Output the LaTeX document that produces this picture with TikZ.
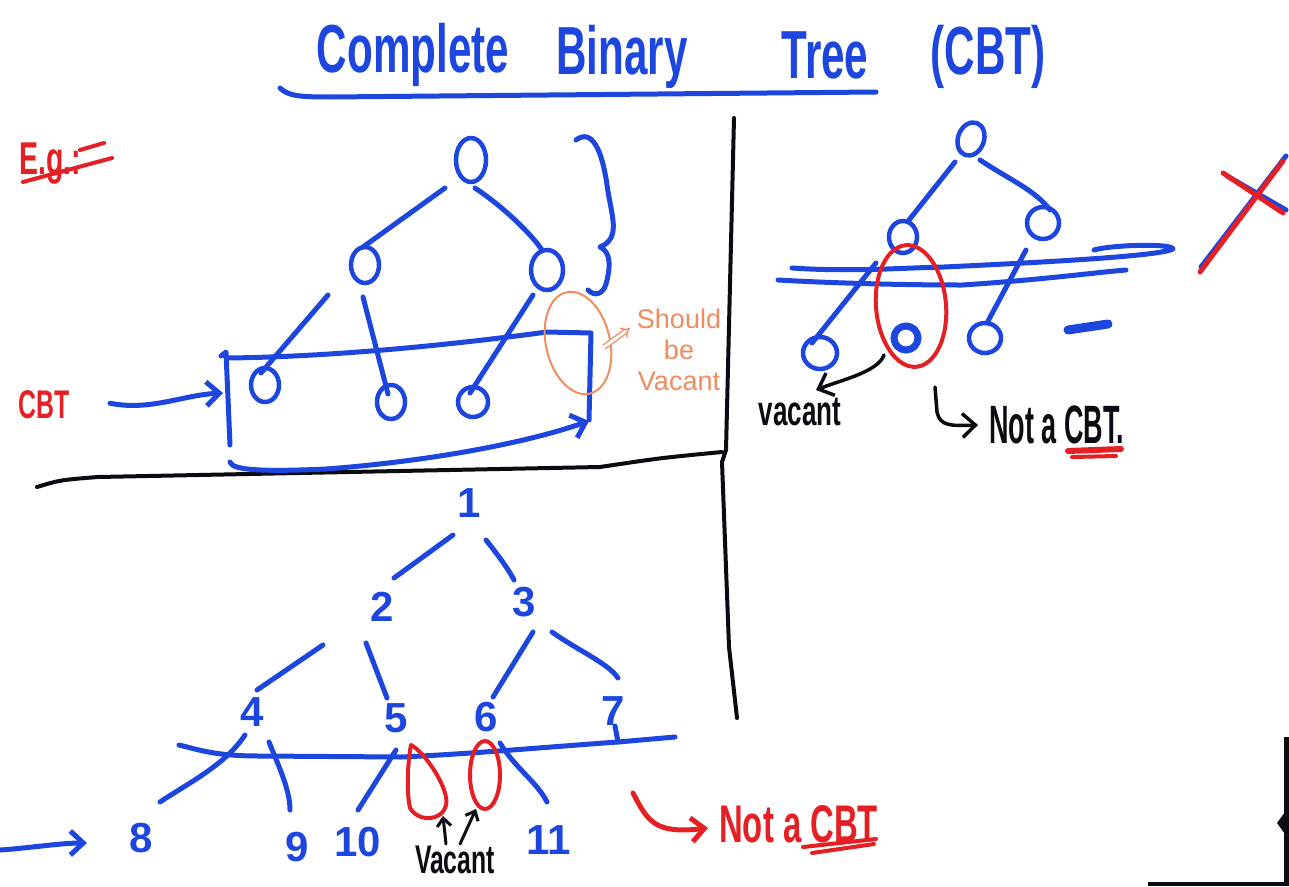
\documentclass[tikz,border=0pt]{standalone}
\usepackage{fontspec}
\setmainfont{Liberation Sans}
\newfontfamily\hand[FakeStretch=0.62]{Liberation Sans}
\newfontfamily\handn[FakeStretch=0.5]{Liberation Sans}
\usetikzlibrary{shapes.geometric,arrows.meta}
\definecolor{pen}{RGB}{28,70,222}
\definecolor{rd}{RGB}{228,32,36}
\definecolor{org}{RGB}{240,140,95}
\definecolor{ink}{RGB}{10,12,18}
\begin{document}
\begin{tikzpicture}[x=1pt,y=-1pt,
 bl/.style={draw=pen,line width=5pt,line cap=round,line join=round},
 rl/.style={draw=rd,line width=5pt,line cap=round,line join=round},
 kl/.style={draw=ink,line width=4pt,line cap=round,line join=round},
 onode/.style={ellipse,draw=pen,line width=4.5pt,inner sep=0pt},
 dig/.style={text=pen,font=\bfseries\fontsize{42}{42}\selectfont,inner sep=0pt},
 ttl/.style={text=pen,font=\hand\bfseries\fontsize{68}{70}\selectfont,anchor=base,inner sep=0pt},
 lbl/.style={inner sep=0pt,anchor=base},
 barb/.style={-{Straight Barb[length=13pt,width=24pt]}}
]
\fill[white] (0,0) rectangle (1289,886);
\useasboundingbox (0,0) rectangle (1289,886);

% ---------- title ----------
\node[ttl] (t1) at (413,72) {Complete};
\node[ttl] (t2) at (622,74) {Binary};
\node[ttl] (t3) at (825,78) {Tree};
\node[ttl] (t4) at (988,74) {(CBT)};
\draw[bl] (280,88) .. controls (288,96) and (300,97) .. (330,97) -- (876,92);

% ---------- E.g. ----------
\node[lbl,text=rd,font=\hand\bfseries\fontsize{46}{46}\selectfont] (eg) at (50,174) {E.g.:};
\draw[rl,line width=4pt] (23,182) -- (112,158);
\draw[rl,line width=4pt] (80,150) -- (104,143);

% ---------- dividers ----------
\draw[kl] (37,487) .. controls (60,480) .. (98,477) -- (600,467) .. controls (660,458) .. (722,452);
\draw[kl] (734,118) -- (726,450) -- (722,462) -- (729,647) -- (737,718);

% ---------- tree 1 ----------
\node[onode,minimum width=30,minimum height=44] (a1) at (471,160) {};
\node[onode,minimum width=28,minimum height=36] (a2) at (365,265) {};
\node[onode,minimum width=32,minimum height=40] (a3) at (547,270) {};
\node[onode,minimum width=28,minimum height=34] (a4) at (265,385) {};
\node[onode,minimum width=28,minimum height=34] (a5) at (391,402) {};
\node[onode,minimum width=30,minimum height=30] (a6) at (473,402) {};
\draw[bl] ([shift={(-26,28)}]a1.center) -- ([shift={(-2,-18)}]a2.center);
\draw[bl] ([shift={(4,28)}]a1.center) .. controls +(30,20) and +(-10,-15) .. ([shift={(-5,-20)}]a3.center);
\draw[bl] ([shift={(-37,30)}]a2.center) -- ([shift={(-4,-12)}]a4.center);
\draw[bl] ([shift={(-2,32)}]a2.center) -- ([shift={(-3,-8)}]a5.center);
\draw[bl] ([shift={(-14,25)}]a3.center) -- ([shift={(-3,-9)}]a6.center);
% brace
\draw[bl] (576,140) .. controls (592,128) and (602,150) .. (607,185) .. controls (611,215) and (622,238) .. (600,247)
  .. controls (612,252) and (610,270) .. (606,284) .. controls (603,294) and (595,297) .. (588,290);
% box around last level
\draw[bl] (221,356) -- (226,352) -- (230,445);
\draw[bl] (226,358) .. controls (330,357) and (450,345) .. (547,332) -- (591,333) -- (589,420);
\coordinate (boxtip) at (589,421);
\draw[bl,barb] (230,462) .. controls (232,470) and (260,472) .. (326,469) .. controls (420,462) and (520,445) .. (boxtip);
% CBT label
\node[lbl,text=rd,font=\hand\bfseries\fontsize{40}{40}\selectfont] (cbt) at (44,418) {CBT};
\coordinate (boxl) at (223,393);
\draw[bl,barb] ([shift={(66,-1)}]cbt.center) .. controls +(40,8) and +(-40,2) .. (boxl);
% orange note
\node[ellipse,draw=org,line width=2pt,minimum width=64,minimum height=104,rotate=13] (sv) at (578,343) {};
\node[inner sep=0pt,align=center,text=org,font=\fontsize{27}{31}\selectfont] (s1) at (679,350) {Should\\be\\Vacant};
\draw[draw=org,line width=1.3pt,double distance=3pt,-{Implies}] ([shift={(26,4)}]sv.center) -- ([shift={(-49,-22)}]s1.center);

% ---------- tree 2 ----------
\node[onode,minimum width=26,minimum height=34,rotate=-20] (b1) at (971,139) {};
\node[onode,minimum width=28,minimum height=32] (b2) at (903,237) {};
\node[onode,minimum width=32,minimum height=32] (b3) at (1043,223) {};
\node[onode,minimum width=34,minimum height=32] (b4) at (820,353) {};
\node[onode,line width=7pt,minimum width=24,minimum height=24] (b5) at (906,338) {};
\node[onode,minimum width=32,minimum height=30] (b6) at (985,338) {};
\draw[bl] ([shift={(-16,23)}]b1.center) -- ([shift={(6,-17)}]b2.center);
\draw[bl] ([shift={(9,21)}]b1.center) .. controls +(30,20) and +(-15,-20) .. ([shift={(7,-13)}]b3.center);
\draw[bl] ([shift={(-27,26)}]b2.center) -- ([shift={(-8,-10)}]b4.center);
\draw[bl] ([shift={(-17,27)}]b3.center) -- ([shift={(2,-15)}]b6.center);
\draw[bl] (792,268) .. controls (850,272) and (900,268) .. (944,267) .. controls (1050,262) and (1160,256) .. (1173,249)
  .. controls (1172,243) and (1110,245) .. (1094,250);
\draw[bl] (778,280) .. controls (830,283) and (900,285) .. (962,285) .. controls (1040,280) and (1100,272) .. (1126,270);
\draw[bl,line width=9pt] (1068,330) -- (1108,324);
\node[ellipse,draw=rd,line width=4pt,minimum width=70,minimum height=122,rotate=5] (ro) at (911,306) {};
\node[lbl,text=ink,font=\hand\bfseries\fontsize{42}{42}\selectfont] (vac1) at (800,425) {vacant};
\draw[kl,line width=3.5pt,barb] ([shift={(-27,49)}]ro.center) .. controls +(-6,17) and +(25,-10) .. ([shift={(16,-35)}]vac1.base);
\node[lbl,anchor=base west,text=ink,font=\handn\bfseries\fontsize{54}{54}\selectfont] (nc1) at (989,443) {Not a CBT.};
\coordinate (hk1) at (935,387);
\draw[kl,line width=3.5pt,barb] (hk1) -- (937,412) .. controls (940,426) and (950,426) .. ([shift={(-11,-18)}]nc1.base west);
\draw[rl,line width=6pt] (1068,451) -- (1121,449);
\draw[rl,line width=4pt] (1072,457) -- (1116,456);
% red X over blue
\draw[bl] (1201,267) -- (1286,156);
\draw[bl] (1227,176) -- (1286,210);
\draw[rl] (1200,272) -- (1283,161);
\draw[rl] (1223,173) -- (1283,213);

% ---------- tree 3 ----------
\node[dig] (n1) at (469,503) {1};
\node[dig] (n2) at (382,607) {2};
\node[dig] (n3) at (524,602) {3};
\node[dig] (n4) at (252,712) {4};
\node[dig] (n5) at (396,718) {5};
\node[dig] (n6) at (486,717) {6};
\node[dig] (n7) at (613,711) {7};
\node[dig] (n8) at (141,838) {8};
\node[dig] (n9) at (297,847) {9};
\node[dig] (n10) at (358,842) {10};
\node[dig] (n11) at (549,840) {11};
\draw[bl] ([shift={(-16,32)}]n1.center) -- ([shift={(12,-29)}]n2.center);
\draw[bl] ([shift={(17,37)}]n1.center) .. controls +(8,10) and +(-6,-12) .. ([shift={(-10,-22)}]n3.center);
\draw[bl] ([shift={(-59,38)}]n2.center) -- ([shift={(5,-22)}]n4.center);
\draw[bl] ([shift={(-16,36)}]n2.center) -- ([shift={(-9,-20)}]n5.center);
\draw[bl] ([shift={(9,30)}]n3.center) -- ([shift={(7,-20)}]n6.center);
\draw[bl] ([shift={(28,30)}]n3.center) .. controls +(25,18) and +(-10,-15) .. ([shift={(5,-33)}]n7.center);
\draw[bl] ([shift={(-7,23)}]n4.center) .. controls +(-20,30) and +(30,-20) .. ([shift={(19,-36)}]n8.center);
\draw[bl] ([shift={(17,30)}]n4.center) .. controls +(10,25) and +(0,-20) .. ([shift={(-7,-37)}]n9.center);
\draw[bl] ([shift={(0,32)}]n5.center) -- ([shift={(0,-32)}]n10.center);
\draw[bl] ([shift={(14,26)}]n6.center) .. controls +(15,25) and +(-10,-20) .. ([shift={(-2,-38)}]n11.center);
\draw[bl] (179,745) .. controls (200,750) and (215,756) .. (260,756) -- (401,757) .. controls (470,754) and (560,746) .. (618,742) -- (675,737);
\draw[bl] ([shift={(2,15)}]n7.center) -- ([shift={(5,31)}]n7.center);
% vacant markers
\draw[rl,line width=4pt] (411,745) .. controls (425,752) and (450,790) .. (446,805) .. controls (442,822) and (418,822) .. (410,808) .. controls (406,790) and (408,760) .. (411,745) -- cycle;
\coordinate (v1) at (443,816);
\node[ellipse,draw=rd,line width=4pt,minimum width=30,minimum height=68,inner sep=0pt] (v2) at (485,775) {};
\node[inner sep=0pt,text=ink,font=\hand\bfseries\fontsize{40}{40}\selectfont] (vac2) at (455,860) {Vacant};
\draw[kl,line width=3pt,-{Straight Barb[length=8pt,width=14pt]}] ([shift={(-9,-16)}]vac2.center) -- (v1);
\draw[kl,line width=3pt,-{Straight Barb[length=8pt,width=14pt]}] ([shift={(5,-16)}]vac2.center) -- ([shift={(-9,34)}]v2.center);
% left arrow
\coordinate (la) at (0,850);
\draw[bl,barb] (la) .. controls (30,848) and (60,843) .. ([shift={(-54,5)}]n8.center);
% red not a CBT
\coordinate (rh) at (633,793);
\node[lbl,anchor=base west,text=rd,font=\hand\bfseries\fontsize{53}{53}\selectfont] (nc2) at (719,842) {Not a CBT};
\draw[rl,barb] (rh) .. controls (648,822) and (655,834) .. ([shift={(-11,-14)}]nc2.base west);
\draw[rl,line width=4pt] (803,847) -- (876,839);
\draw[rl,line width=4pt] (812,853) -- (874,844);

% corner artifact
\fill[ink] (1148,882) rectangle (1289,886);
\fill[ink] (1284,737) rectangle (1289,886);
\fill[ink] (1285,812) -- (1277,823) -- (1285,834) -- cycle;
\end{tikzpicture}
\end{document}
